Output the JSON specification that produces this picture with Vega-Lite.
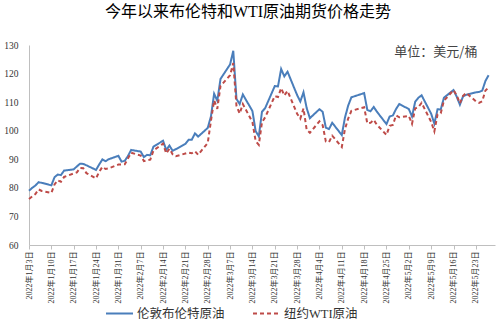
{
  "$schema": "https://vega.github.io/schema/vega-lite/v6.json",
  "autosize": {"type": "none"},
  "width": 466,
  "height": 200,
  "padding": {"left": 29, "top": 45, "right": 5, "bottom": 80},
  "background": "white",
  "title": {
    "text": "今年以来布伦特和WTI原油期货价格走势",
    "font": "Liberation Serif, Noto Sans CJK SC",
    "fontSize": 16,
    "fontWeight": "normal",
    "color": "#000000",
    "anchor": "middle",
    "offset": 20,
    "dx": -14
  },
  "config": {
    "view": {"stroke": null},
    "axis": {
      "labelFont": "Liberation Serif, Noto Sans CJK SC",
      "labelColor": "#333333",
      "domainColor": "#bfbfbf",
      "tickColor": "#bfbfbf",
      "grid": false,
      "title": null,
      "labelOverlap": false
    }
  },
  "resolve": {"axis": {"x": "independent", "y": "independent"}},
  "data": {
    "values": [
      {"d": "2022-01-03", "Brent": 78.98, "WTI": 76.08},
      {"d": "2022-01-04", "Brent": 80.0, "WTI": 76.99},
      {"d": "2022-01-05", "Brent": 80.8, "WTI": 77.85},
      {"d": "2022-01-06", "Brent": 81.99, "WTI": 79.46},
      {"d": "2022-01-07", "Brent": 81.75, "WTI": 78.9},
      {"d": "2022-01-10", "Brent": 80.87, "WTI": 78.23},
      {"d": "2022-01-11", "Brent": 83.72, "WTI": 81.22},
      {"d": "2022-01-12", "Brent": 84.67, "WTI": 82.64},
      {"d": "2022-01-13", "Brent": 84.47, "WTI": 82.12},
      {"d": "2022-01-14", "Brent": 86.06, "WTI": 83.82},
      {"d": "2022-01-17", "Brent": 86.48, "WTI": null},
      {"d": "2022-01-18", "Brent": 87.51, "WTI": 85.43},
      {"d": "2022-01-19", "Brent": 88.44, "WTI": 86.96},
      {"d": "2022-01-20", "Brent": 88.38, "WTI": 86.9},
      {"d": "2022-01-21", "Brent": 87.89, "WTI": 85.14},
      {"d": "2022-01-24", "Brent": 86.27, "WTI": 83.31},
      {"d": "2022-01-25", "Brent": 88.2, "WTI": 85.6},
      {"d": "2022-01-26", "Brent": 89.96, "WTI": 87.35},
      {"d": "2022-01-27", "Brent": 89.34, "WTI": 86.61},
      {"d": "2022-01-28", "Brent": 90.03, "WTI": 86.82},
      {"d": "2022-01-31", "Brent": 91.21, "WTI": 88.15},
      {"d": "2022-02-01", "Brent": 89.16, "WTI": 88.2},
      {"d": "2022-02-02", "Brent": 89.47, "WTI": 88.26},
      {"d": "2022-02-03", "Brent": 91.11, "WTI": 90.27},
      {"d": "2022-02-04", "Brent": 93.27, "WTI": 92.31},
      {"d": "2022-02-07", "Brent": 92.69, "WTI": 91.32},
      {"d": "2022-02-08", "Brent": 90.78, "WTI": 89.36},
      {"d": "2022-02-09", "Brent": 91.55, "WTI": 89.66},
      {"d": "2022-02-10", "Brent": 91.41, "WTI": 89.88},
      {"d": "2022-02-11", "Brent": 94.44, "WTI": 93.1},
      {"d": "2022-02-14", "Brent": 96.48, "WTI": 95.46},
      {"d": "2022-02-15", "Brent": 93.28, "WTI": 92.07},
      {"d": "2022-02-16", "Brent": 94.81, "WTI": 93.66},
      {"d": "2022-02-17", "Brent": 92.97, "WTI": 91.76},
      {"d": "2022-02-18", "Brent": 93.54, "WTI": 91.07},
      {"d": "2022-02-21", "Brent": 95.39, "WTI": null},
      {"d": "2022-02-22", "Brent": 96.84, "WTI": 92.35},
      {"d": "2022-02-23", "Brent": 96.84, "WTI": 92.1},
      {"d": "2022-02-24", "Brent": 99.08, "WTI": 92.81},
      {"d": "2022-02-25", "Brent": 97.93, "WTI": 91.59},
      {"d": "2022-02-28", "Brent": 100.99, "WTI": 95.72},
      {"d": "2022-03-01", "Brent": 104.97, "WTI": 103.41},
      {"d": "2022-03-02", "Brent": 112.93, "WTI": 110.6},
      {"d": "2022-03-03", "Brent": 110.46, "WTI": 107.67},
      {"d": "2022-03-04", "Brent": 118.11, "WTI": 115.68},
      {"d": "2022-03-07", "Brent": 123.21, "WTI": 119.4},
      {"d": "2022-03-08", "Brent": 127.98, "WTI": 123.7},
      {"d": "2022-03-09", "Brent": 111.14, "WTI": 108.7},
      {"d": "2022-03-10", "Brent": 109.33, "WTI": 106.02},
      {"d": "2022-03-11", "Brent": 112.67, "WTI": 109.33},
      {"d": "2022-03-14", "Brent": 106.9, "WTI": 103.01},
      {"d": "2022-03-15", "Brent": 99.91, "WTI": 96.44},
      {"d": "2022-03-16", "Brent": 98.02, "WTI": 95.04},
      {"d": "2022-03-17", "Brent": 106.64, "WTI": 102.98},
      {"d": "2022-03-18", "Brent": 107.93, "WTI": 104.7},
      {"d": "2022-03-21", "Brent": 115.62, "WTI": 112.12},
      {"d": "2022-03-22", "Brent": 115.48, "WTI": 111.76},
      {"d": "2022-03-23", "Brent": 121.6, "WTI": 114.93},
      {"d": "2022-03-24", "Brent": 119.03, "WTI": 112.34},
      {"d": "2022-03-25", "Brent": 120.65, "WTI": 113.9},
      {"d": "2022-03-28", "Brent": 112.48, "WTI": 105.96},
      {"d": "2022-03-29", "Brent": 110.23, "WTI": 104.24},
      {"d": "2022-03-30", "Brent": 113.45, "WTI": 107.82},
      {"d": "2022-03-31", "Brent": 107.91, "WTI": 100.28},
      {"d": "2022-04-01", "Brent": 104.39, "WTI": 99.27},
      {"d": "2022-04-04", "Brent": 107.53, "WTI": 103.28},
      {"d": "2022-04-05", "Brent": 106.64, "WTI": 101.96},
      {"d": "2022-04-06", "Brent": 101.07, "WTI": 96.23},
      {"d": "2022-04-07", "Brent": 100.58, "WTI": 96.03},
      {"d": "2022-04-08", "Brent": 102.78, "WTI": 98.26},
      {"d": "2022-04-11", "Brent": 98.48, "WTI": 94.29},
      {"d": "2022-04-12", "Brent": 104.64, "WTI": 100.6},
      {"d": "2022-04-13", "Brent": 108.78, "WTI": 104.25},
      {"d": "2022-04-14", "Brent": 111.7, "WTI": 106.95},
      {"d": "2022-04-18", "Brent": 113.16, "WTI": 108.21},
      {"d": "2022-04-19", "Brent": 107.25, "WTI": 102.56},
      {"d": "2022-04-20", "Brent": 106.8, "WTI": 102.75},
      {"d": "2022-04-21", "Brent": 108.33, "WTI": 103.79},
      {"d": "2022-04-22", "Brent": 106.65, "WTI": 102.07},
      {"d": "2022-04-25", "Brent": 102.32, "WTI": 98.54},
      {"d": "2022-04-26", "Brent": 104.99, "WTI": 101.7},
      {"d": "2022-04-27", "Brent": 105.32, "WTI": 102.02},
      {"d": "2022-04-28", "Brent": 107.59, "WTI": 105.36},
      {"d": "2022-04-29", "Brent": 109.34, "WTI": 104.69},
      {"d": "2022-05-02", "Brent": 107.58, "WTI": 105.17},
      {"d": "2022-05-03", "Brent": 104.97, "WTI": 102.41},
      {"d": "2022-05-04", "Brent": 110.14, "WTI": 107.81},
      {"d": "2022-05-05", "Brent": 111.55, "WTI": 108.26},
      {"d": "2022-05-06", "Brent": 112.39, "WTI": 109.77},
      {"d": "2022-05-09", "Brent": 105.94, "WTI": 103.09},
      {"d": "2022-05-10", "Brent": 102.46, "WTI": 99.76},
      {"d": "2022-05-11", "Brent": 107.51, "WTI": 105.71},
      {"d": "2022-05-12", "Brent": 107.45, "WTI": 106.13},
      {"d": "2022-05-13", "Brent": 111.55, "WTI": 110.49},
      {"d": "2022-05-16", "Brent": 114.24, "WTI": 114.2},
      {"d": "2022-05-17", "Brent": 111.93, "WTI": 112.4},
      {"d": "2022-05-18", "Brent": 109.11, "WTI": 109.59},
      {"d": "2022-05-19", "Brent": 112.04, "WTI": 112.21},
      {"d": "2022-05-20", "Brent": 112.55, "WTI": 113.23},
      {"d": "2022-05-23", "Brent": 113.42, "WTI": 110.29},
      {"d": "2022-05-24", "Brent": 113.56, "WTI": 109.77},
      {"d": "2022-05-25", "Brent": 114.03, "WTI": 110.33},
      {"d": "2022-05-26", "Brent": 117.4, "WTI": 114.09},
      {"d": "2022-05-27", "Brent": 119.43, "WTI": 115.07}
    ]
  },
  "layer": [
    {
      "transform": [
        {"fold": ["Brent", "WTI"], "as": ["s", "p"]},
        {"filter": "isValid(datum.p)"}
      ],
      "mark": {"type": "line", "strokeWidth": 2, "interpolate": "linear"},
      "encoding": {
        "x": {
          "field": "d",
          "type": "temporal",
          "scale": {
            "type": "utc",
            "domain": [
              {"year": 2022, "month": 1, "date": 3, "utc": true},
              {"year": 2022, "month": 5, "date": 29, "utc": true}
            ]
          },
          "axis": {
            "values": [
              {"year": 2022, "month": 1, "date": 3, "utc": true},
              {"year": 2022, "month": 1, "date": 10, "utc": true},
              {"year": 2022, "month": 1, "date": 17, "utc": true},
              {"year": 2022, "month": 1, "date": 24, "utc": true},
              {"year": 2022, "month": 1, "date": 31, "utc": true},
              {"year": 2022, "month": 2, "date": 7, "utc": true},
              {"year": 2022, "month": 2, "date": 14, "utc": true},
              {"year": 2022, "month": 2, "date": 21, "utc": true},
              {"year": 2022, "month": 2, "date": 28, "utc": true},
              {"year": 2022, "month": 3, "date": 7, "utc": true},
              {"year": 2022, "month": 3, "date": 14, "utc": true},
              {"year": 2022, "month": 3, "date": 21, "utc": true},
              {"year": 2022, "month": 3, "date": 28, "utc": true},
              {"year": 2022, "month": 4, "date": 4, "utc": true},
              {"year": 2022, "month": 4, "date": 11, "utc": true},
              {"year": 2022, "month": 4, "date": 18, "utc": true},
              {"year": 2022, "month": 4, "date": 25, "utc": true},
              {"year": 2022, "month": 5, "date": 2, "utc": true},
              {"year": 2022, "month": 5, "date": 9, "utc": true},
              {"year": 2022, "month": 5, "date": 16, "utc": true},
              {"year": 2022, "month": 5, "date": 23, "utc": true}
            ],
            "format": "%Y年%-m月%-d日",
            "labelAngle": -90,
            "labelAlign": "right",
            "labelBaseline": "middle",
            "labelFontSize": 8,
            "labelPadding": 2,
            "tickSize": 4,
            "labelOverlap": false,
            "labelFlush": false
          }
        },
        "y": {
          "field": "p",
          "type": "quantitative",
          "scale": {"domain": [60, 130], "nice": false, "zero": false},
          "axis": {
            "values": [60, 70, 80, 90, 100, 110, 120, 130],
            "ticks": false,
            "tickSize": 0,
            "labelPadding": 11,
            "labelFontSize": 9.5,
            "labelOverlap": false,
            "labelFlush": false
          }
        },
        "color": {
          "field": "s",
          "type": "nominal",
          "scale": {"domain": ["Brent", "WTI"], "range": ["#4A7EBB", "#BE4B48"]},
          "legend": {
            "orient": "none",
            "direction": "horizontal",
            "legendX": 76,
            "legendY": 254,
            "title": null,
            "labelExpr": "datum.label == 'Brent' ? '伦敦布伦特原油' : '纽约WTI原油'",
            "labelFont": "Liberation Serif, Noto Sans CJK SC",
            "labelFontSize": 12.5,
            "labelColor": "#333333",
            "symbolType": "stroke",
            "symbolSize": 729,
            "symbolStrokeWidth": 2,
            "columnPadding": 24,
            "labelOffset": 3
          }
        },
        "strokeDash": {
          "field": "s",
          "type": "nominal",
          "scale": {"domain": ["Brent", "WTI"], "range": [[1, 0], [4, 3]]},
          "legend": {
            "orient": "none",
            "direction": "horizontal",
            "legendX": 76,
            "legendY": 254,
            "title": null,
            "labelExpr": "datum.label == 'Brent' ? '伦敦布伦特原油' : '纽约WTI原油'",
            "labelFont": "Liberation Serif, Noto Sans CJK SC",
            "labelFontSize": 12.5,
            "labelColor": "#333333",
            "symbolType": "stroke",
            "symbolSize": 729,
            "symbolStrokeWidth": 2,
            "columnPadding": 24,
            "labelOffset": 3
          }
        }
      }
    },
    {
      "data": {"values": [{"unit": "单位：美元/桶"}]},
      "mark": {
        "type": "text",
        "align": "right",
        "baseline": "middle",
        "font": "Noto Sans CJK SC",
        "fontSize": 13,
        "fontWeight": "normal",
        "color": "#444444"
      },
      "encoding": {
        "text": {"field": "unit"},
        "x": {"datum": {"year": 2022, "month": 5, "date": 23, "hours": 12, "utc": true}, "type": "temporal", "axis": null},
        "y": {"datum": 127.7, "type": "quantitative", "axis": null}
      }
    }
  ]
}
